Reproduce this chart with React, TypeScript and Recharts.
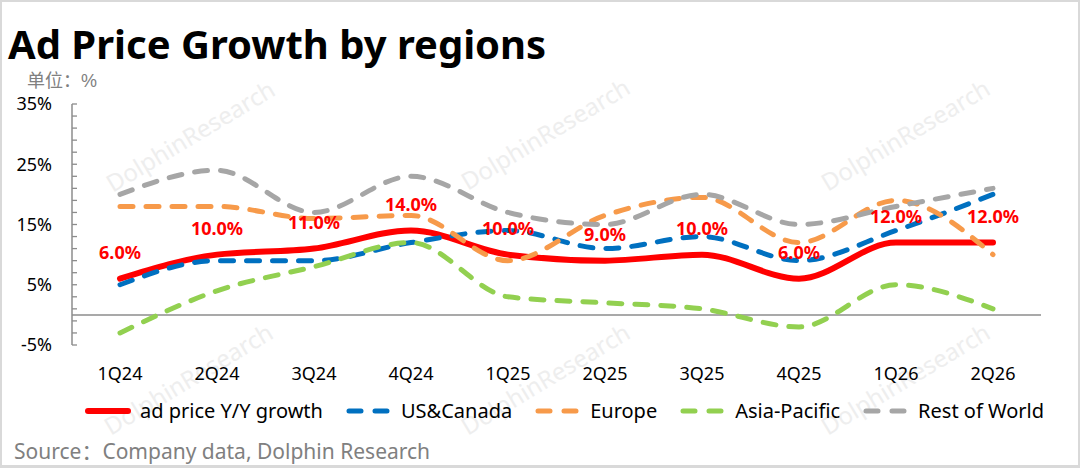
import React from "react";
import { LineChart, Line, XAxis, YAxis, ReferenceLine, LabelList } from "recharts";

// Quarter labels on the x axis
const quarters = ["1Q24", "2Q24", "3Q24", "4Q24", "1Q25", "2Q25", "3Q25", "4Q25", "1Q26", "2Q26"];

// Y/Y growth, %
const adPriceGrowth = [6, 10, 11, 14, 10, 9, 10, 6, 12, 12];
const usCanada = [5, 9, 9, 12, 14, 11, 13, 9, 14, 20];
const europe = [18, 18, 16, 16.5, 9, 16.5, 19.5, 12, 19, 10];
const asiaPacific = [-3, 4, 8, 12, 3, 2, 1, -2, 5, 1];
const restOfWorld = [20, 24, 17, 23, 17, 15, 20, 15, 18, 21];

// y ticks every 2%, labels only every 10%
const yTicks = [-5, -3, -1, 1, 3, 5, 7, 9, 11, 13, 15, 17, 19, 21, 23, 25, 27, 29, 31, 33, 35];
const yLabelled = [-5, 5, 15, 25, 35];

const data = quarters.map((q, i) => ({
  q,
  adPrice: adPriceGrowth[i],
  us: usCanada[i],
  europe: europe[i],
  apac: asiaPacific[i],
  row: restOfWorld[i],
}));

const series = [
  { key: "adPrice", name: "ad price Y/Y growth", color: "#FF0000", width: 6, dash: undefined },
  { key: "us", name: "US&Canada", color: "#0070C0", width: 5, dash: "13 13" },
  { key: "europe", name: "Europe", color: "#F79A4A", width: 5, dash: "13 13" },
  { key: "apac", name: "Asia-Pacific", color: "#92D050", width: 5, dash: "13 13" },
  { key: "row", name: "Rest of World", color: "#A6A6A6", width: 5, dash: "13 13" },
];

const FONT = "'Noto Sans', 'Noto Sans CJK SC', sans-serif";
const AXIS_GRAY = "#8C8C8C";

// watermark centres
const marks = [
  [190, 135],
  [545, 133],
  [905, 134],
  [188, 378],
  [545, 378],
  [905, 378],
];

// y tick: short mark inside the plot, label on the left
const YTick = (props: any) => {
  const { x, y, payload } = props;
  const v = payload.value;
  return (
    <g>
      <line x1={x} x2={x + 5} y1={y} y2={y} stroke={AXIS_GRAY} strokeWidth={1.3} />
      {yLabelled.includes(v) && (
        <text x={x - 20} y={y} dy="0.36em" textAnchor="end" fontSize={18} fill="#000" fontFamily={FONT}>
          {v}%
        </text>
      )}
    </g>
  );
};

const LegendSample = ({ color, dash, width }: any) => (
  <svg width={48} height={12} style={{ display: "block" }}>
    <line
      x1={4}
      x2={44}
      y1={6}
      y2={6}
      stroke={color}
      strokeWidth={width}
      strokeLinecap="round"
      strokeDasharray={dash ? "12 14" : undefined}
    />
  </svg>
);

const App: React.FC = () => {
  return (
    <div style={{ position: "relative", width: 1080, height: 468, background: "#fff", fontFamily: FONT, overflow: "hidden" }}>
      <style>{`body{margin:0}`}</style>

      {marks.map(([cx, cy], i) => (
        <div
          key={i}
          style={{
            position: "absolute",
            left: cx - 110,
            top: cy - 16,
            width: 220,
            textAlign: "center",
            fontSize: 24,
            color: "#eeeeee",
            transform: "rotate(-31deg)",
            whiteSpace: "nowrap",
          }}
        >
          DolphinResearch
        </div>
      ))}

      <div
        style={{
          position: "absolute",
          left: 8,
          top: 24,
          fontSize: 40,
          lineHeight: "40px",
          fontWeight: 700,
          color: "#000",
          whiteSpace: "nowrap",
        }}
      >
        Ad Price Growth by regions
      </div>
      {/* unit note: compact font metrics so it clears the title and the 35% label */}
      <div
        style={{
          position: "absolute",
          left: 27,
          top: 71,
          fontSize: 18,
          lineHeight: "20px",
          fontFamily: "'Liberation Sans', 'Noto Sans CJK SC', sans-serif",
          color: "#808080",
          whiteSpace: "nowrap",
        }}
      >
        单位：%
      </div>

      <div style={{ position: "absolute", left: 0, top: 0 }}>
        <LineChart width={1080} height={468} data={data} margin={{ top: 104, right: 39, bottom: 93, left: 0 }}>
          <XAxis
            dataKey="q"
            axisLine={false}
            tickLine={false}
            tickMargin={16}
            height={30}
            interval={0}
            padding={{ left: 48, right: 48 }}
            tick={{ fontSize: 18, fill: "#000", fontFamily: FONT }}
          />
          <YAxis
            type="number"
            domain={[-5, 35]}
            ticks={yTicks}
            interval={0}
            width={72}
            tickSize={0}
            tickMargin={0}
            axisLine={{ stroke: AXIS_GRAY, strokeWidth: 1.5 }}
            tickLine={false}
            tick={<YTick />}
          />
          <ReferenceLine y={0} stroke={AXIS_GRAY} strokeWidth={1.5} />
          {series.map((s) => (
            <Line
              key={s.key}
              type="monotone"
              dataKey={s.key}
              name={s.name}
              stroke={s.color}
              strokeWidth={s.width}
              strokeDasharray={s.dash}
              strokeLinecap="round"
              dot={false}
              activeDot={false}
              isAnimationActive={false}
            />
          ))}
          {/* invisible copy of the red series so its labels sit on top */}
          <Line
            type="monotone"
            dataKey="adPrice"
            stroke="none"
            dot={false}
            activeDot={false}
            legendType="none"
            isAnimationActive={false}
          >
            <LabelList
              dataKey="adPrice"
              position="top"
              offset={20}
              formatter={(v: any) => `${Number(v).toFixed(1)}%`}
              style={{ fill: "#FF0000", fontSize: 18, fontWeight: 700, fontFamily: FONT }}
            />
          </Line>
        </LineChart>
      </div>

      <div
        style={{
          position: "absolute",
          left: 0,
          width: 1080,
          top: 397,
          display: "flex",
          justifyContent: "center",
          alignItems: "center",
          gap: 22,
          paddingLeft: 48,
          boxSizing: "border-box",
          fontSize: 20,
          color: "#000",
        }}
      >
        {series.map((s) => (
          <div key={s.key} style={{ display: "flex", alignItems: "center", gap: 8, whiteSpace: "nowrap" }}>
            <LegendSample color={s.color} dash={s.dash} width={s.width} />
            <span>{s.name}</span>
          </div>
        ))}
      </div>

      <div style={{ position: "absolute", left: 14, top: 435, fontSize: 21, color: "#808080", whiteSpace: "nowrap" }}>
        Source：Company data, Dolphin Research
      </div>

      <div
        style={{
          position: "absolute",
          inset: 0,
          borderStyle: "solid",
          borderColor: "#d9d9d9",
          borderWidth: "2px 2px 3px 2px",
          pointerEvents: "none",
        }}
      />
    </div>
  );
};

export default App;
